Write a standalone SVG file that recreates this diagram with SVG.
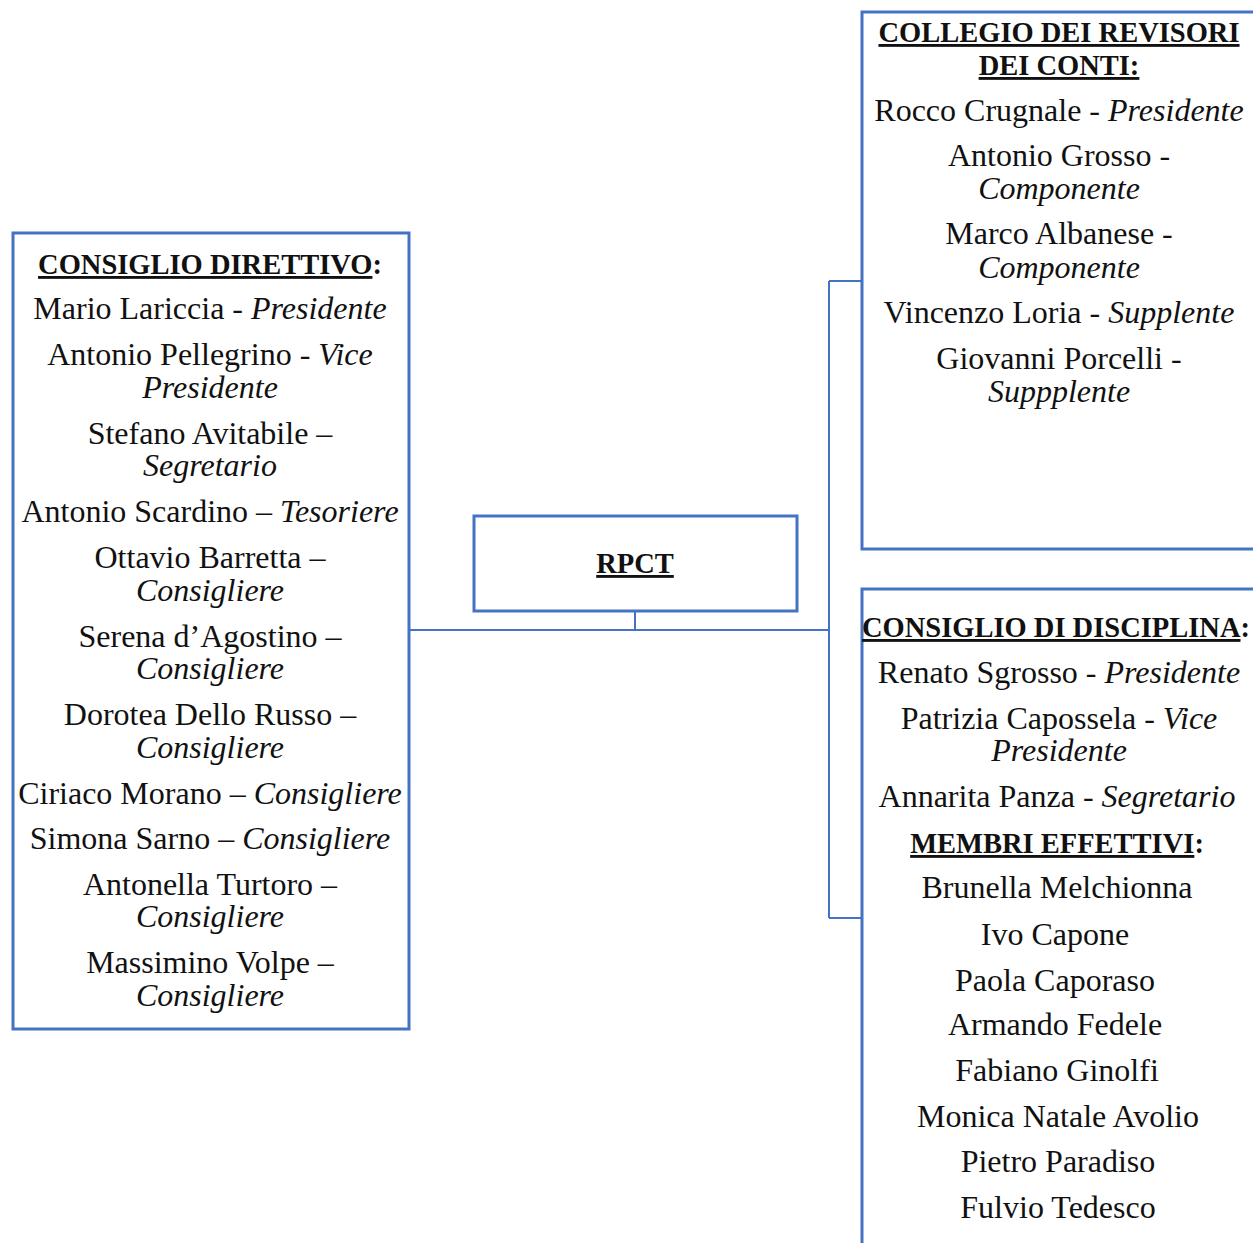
<svg xmlns="http://www.w3.org/2000/svg" width="1253" height="1243" viewBox="0 0 1253 1243">
<style>
.box{fill:#fff;stroke:#4472C4;stroke-width:3}
.conn{fill:none;stroke:#4472C4;stroke-width:2}
text{font-family:"Liberation Serif","DejaVu Serif",serif;font-size:32px;fill:#111;text-anchor:middle}
.b{font-weight:bold;font-size:28.5px}
.i{font-style:italic}
.u{text-decoration:underline}
</style>
<rect width="1253" height="1243" fill="#fff"/>
<g id="connectors">
<path class="conn" d="M409,630 H829 M635,611 V630 M829,281 V918 M829,281 H862 M829,918 H862"/>
</g>
<g id="consiglio-direttivo">
<rect class="box" x="13" y="233" width="396" height="796"/>
<text x="210" y="274" class="b"><tspan class="u">CONSIGLIO DIRETTIVO</tspan>:</text>
<text x="210" y="319">Mario Lariccia - <tspan class="i">Presidente</tspan></text>
<text x="210" y="365">Antonio Pellegrino - <tspan class="i">Vice</tspan></text>
<text x="210" y="398" class="i">Presidente</text>
<text x="210" y="444">Stefano Avitabile –</text>
<text x="210" y="476" class="i">Segretario</text>
<text x="210" y="522">Antonio Scardino – <tspan class="i">Tesoriere</tspan></text>
<text x="210" y="568">Ottavio Barretta –</text>
<text x="210" y="601" class="i">Consigliere</text>
<text x="210" y="647">Serena d’Agostino –</text>
<text x="210" y="679" class="i">Consigliere</text>
<text x="210" y="725">Dorotea Dello Russo –</text>
<text x="210" y="758" class="i">Consigliere</text>
<text x="210" y="804">Ciriaco Morano – <tspan class="i">Consigliere</tspan></text>
<text x="210" y="849">Simona Sarno – <tspan class="i">Consigliere</tspan></text>
<text x="210" y="895">Antonella Turtoro –</text>
<text x="210" y="927" class="i">Consigliere</text>
<text x="210" y="973">Massimino Volpe –</text>
<text x="210" y="1006" class="i">Consigliere</text>
</g>
<g id="rpct">
<rect class="box" x="474" y="516" width="323" height="95"/>
<text x="635" y="573" class="b u">RPCT</text>
</g>
<g id="collegio-revisori">
<rect class="box" x="862" y="12" width="420" height="537"/>
<text x="1059" y="42" class="b u">COLLEGIO DEI REVISORI</text>
<text x="1059" y="75" class="b u">DEI CONTI:</text>
<text x="1059" y="121">Rocco Crugnale - <tspan class="i">Presidente</tspan></text>
<text x="1059" y="166">Antonio Grosso -</text>
<text x="1059" y="199" class="i">Componente</text>
<text x="1059" y="244">Marco Albanese -</text>
<text x="1059" y="278" class="i">Componente</text>
<text x="1059" y="323">Vincenzo Loria - <tspan class="i">Supplente</tspan></text>
<text x="1059" y="369">Giovanni Porcelli -</text>
<text x="1059" y="402" class="i">Suppplente</text>
</g>
<g id="consiglio-disciplina">
<rect class="box" x="862" y="589" width="420" height="700"/>
<text x="1056" y="637" class="b"><tspan class="u">CONSIGLIO DI DISCIPLINA</tspan>:</text>
<text x="1059" y="683">Renato Sgrosso - <tspan class="i">Presidente</tspan></text>
<text x="1059" y="729">Patrizia Capossela - <tspan class="i">Vice</tspan></text>
<text x="1059" y="761" class="i">Presidente</text>
<text x="1057" y="807">Annarita Panza - <tspan class="i">Segretario</tspan></text>
<text x="1057" y="853" class="b"><tspan class="u">MEMBRI EFFETTIVI</tspan>:</text>
<text x="1057" y="898">Brunella Melchionna</text>
<text x="1055" y="945">Ivo Capone</text>
<text x="1055" y="991">Paola Caporaso</text>
<text x="1055" y="1035">Armando Fedele</text>
<text x="1057" y="1081">Fabiano Ginolfi</text>
<text x="1058" y="1127">Monica Natale Avolio</text>
<text x="1058" y="1172">Pietro Paradiso</text>
<text x="1058" y="1218">Fulvio Tedesco</text>
</g>
</svg>
